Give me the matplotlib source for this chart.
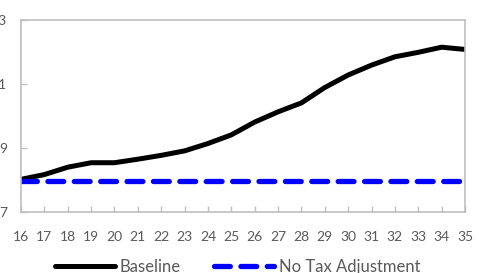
import matplotlib
matplotlib.use("Agg")
import matplotlib.pyplot as plt

# data
years = list(range(16, 36))
baseline = [8.02, 8.17, 8.40, 8.54, 8.54, 8.65, 8.77, 8.91, 9.14, 9.41,
            9.81, 10.13, 10.41, 10.89, 11.28, 11.59, 11.85, 11.99, 12.15, 12.08]
no_tax_adj = [7.97] * len(years)
y_ticks = [7, 9, 11, 13]

plt.rcParams['font.family'] = ['Lato', 'DejaVu Sans']
grey = '#595959'
spine = '#BFBFBF'

fig = plt.figure(figsize=(4.79, 2.73), dpi=100)
ax = fig.add_axes([21 / 479, 1 - 212 / 273, (465 - 21) / 479, (212 - 20) / 273])

ax.plot(years, baseline, color='black', linewidth=3.6,
        solid_capstyle='round', label='Baseline')
ax.plot(years, no_tax_adj, color='#0000FF', linewidth=3.8,
        dashes=(3.0, 2.0), dash_capstyle='round', label='No Tax Adjustment')

ax.set_xlim(16, 35)
ax.set_ylim(7, 13)
ax.set_xticks(years)
ax.set_yticks(y_ticks)

for s in ax.spines.values():
    s.set_color(spine)
    s.set_linewidth(1.2)

ax.tick_params(axis='x', direction='in', length=4, color=spine, width=1,
               labelsize=10, labelcolor=grey, pad=14)
ax.tick_params(axis='y', direction='in', length=4, color=spine, width=1,
               labelsize=10, labelcolor=grey, pad=10)

fig.legend(loc='center', bbox_to_anchor=(0.496, 0.022), ncol=2,
           frameon=False, fontsize=12, handlelength=3.6, columnspacing=2.0,
           handletextpad=0.3, labelcolor=grey, borderaxespad=0)

fig.savefig('out.png', dpi=100)
